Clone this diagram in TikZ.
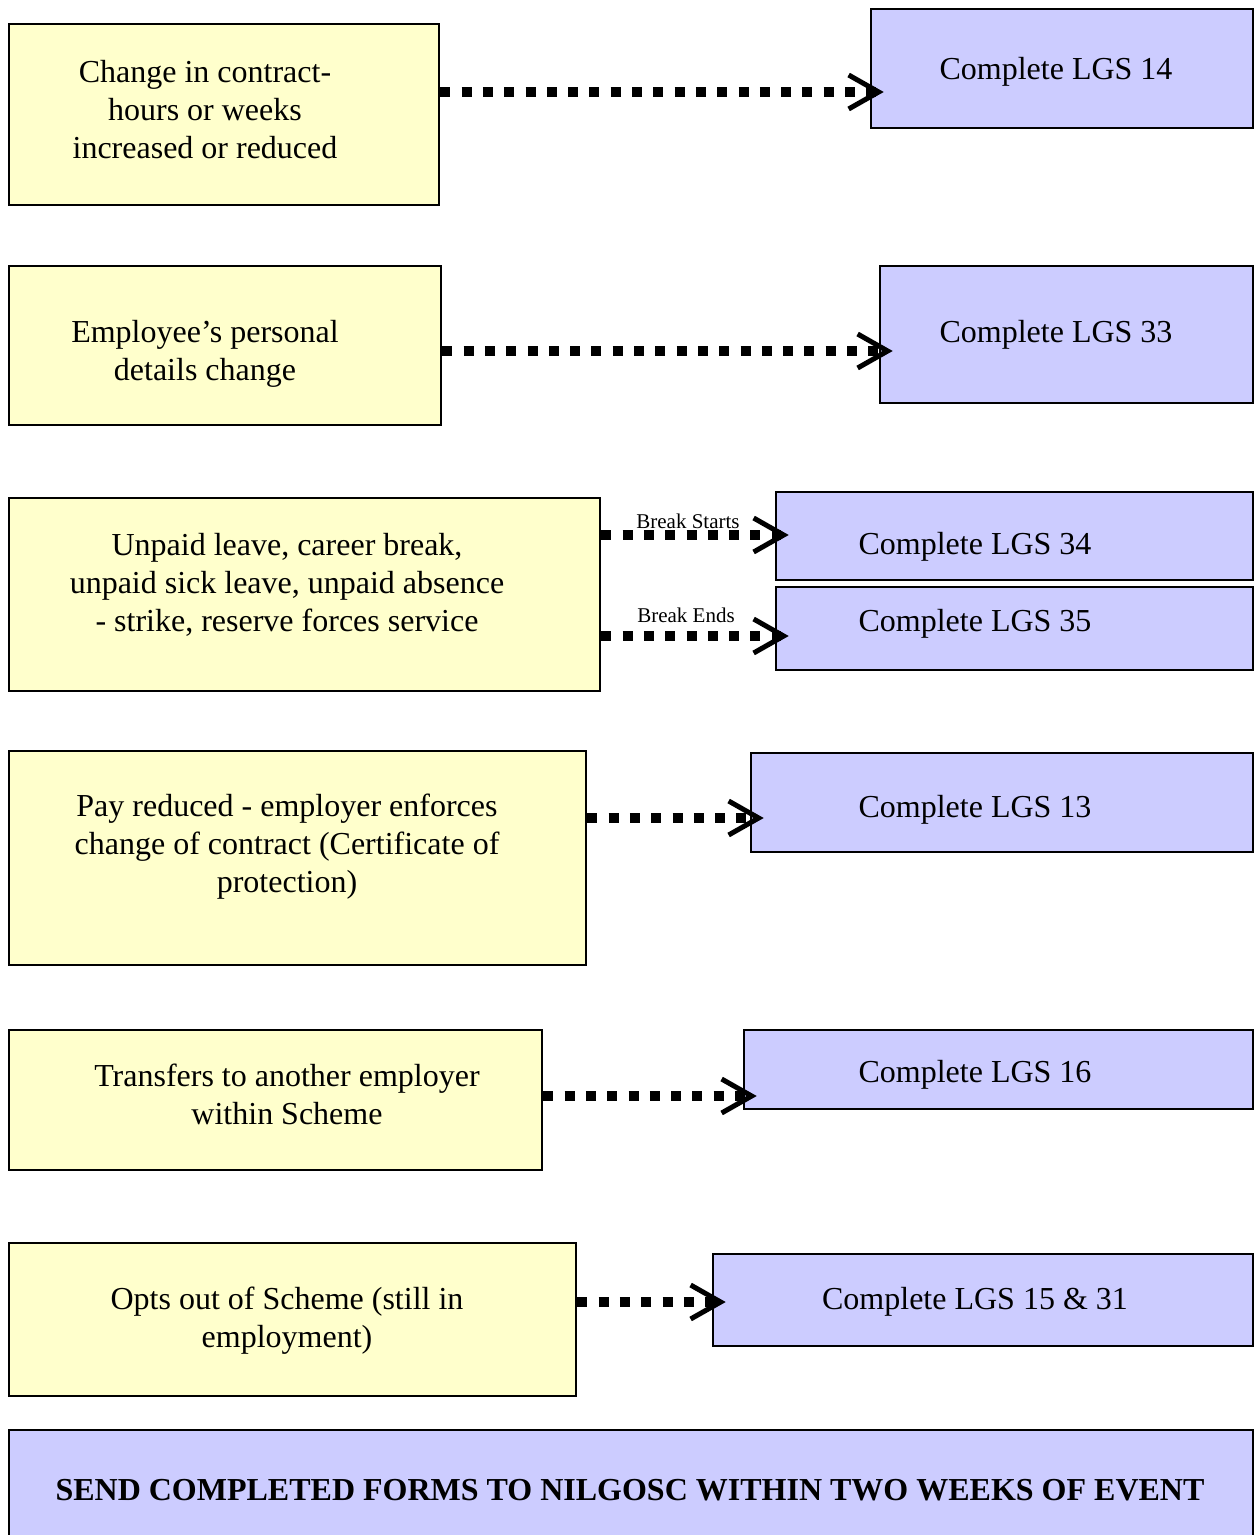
\documentclass[tikz,border=0pt]{standalone}
\usepackage{fontspec}
\setmainfont{Liberation Serif}
\usetikzlibrary{arrows.meta,fit}
\definecolor{ylw}{HTML}{FFFFCC}
\definecolor{blu}{HTML}{CCCCFF}
\tikzset{
  box/.style={draw=black, line width=1.3pt, inner sep=0pt, rectangle},
  ybox/.style={box, fill=ylw},
  bbox/.style={box, fill=blu},
  txt/.style={align=center, inner sep=0pt, font=\fontsize{16}{19}\selectfont},
  small/.style={inner sep=0pt, font=\fontsize{10.5}{12}\selectfont},
  flow/.style={line width=5pt, dash pattern=on 5pt off 5.65pt, shorten >=-7pt,
    -{Straight Barb[length=15pt, width=17pt, line width'=2.5pt]}}
}
\begin{document}
\begin{tikzpicture}[x=0.5pt, y=-0.5pt]
\useasboundingbox (0,0) rectangle (1255,1535);
% row 1
\node[ybox, fit={(9,24) (439,205)}] (y1) {};
\node[bbox, fit={(871,9) (1253,128)}] (b1) {};
\node[txt] (y1t) at (205,110) {Change in contract-\\hours or weeks\\increased or reduced};
\node[txt] (b1t) at (1056,72) {Complete LGS 14};
\coordinate (c1) at (0,92);
\draw[flow] (y1.east |- c1) -- (b1.west |- c1);
% row 2
\node[ybox, fit={(9,266) (441,425)}] (y2) {};
\node[bbox, fit={(880,266) (1253,403)}] (b2) {};
\node[txt] (y2t) at (205,354) {Employee's personal\\details change};
\node[txt] (b2t) at (1056,335) {Complete LGS 33};
\coordinate (c2) at (0,351);
\draw[flow] (y2.east |- c2) -- (b2.west |- c2);
% row 3
\node[ybox, fit={(9,498) (600,691)}] (y3) {};
\node[bbox, fit={(776,492) (1253,580)}] (b3) {};
\node[bbox, fit={(776,587) (1253,670)}] (b4) {};
\node[txt] (y3t) at (287,585) {Unpaid leave, career break,\\unpaid sick leave, unpaid absence\\- strike, reserve forces service};
\node[txt] (b3t) at (975,547) {Complete LGS 34};
\node[txt] (b4t) at (975,624) {Complete LGS 35};
\coordinate (c3) at (0,535);
\coordinate (c4) at (0,636);
\draw[flow] (y3.east |- c3) -- (b3.west |- c3);
\draw[flow] (y3.east |- c4) -- (b4.west |- c4);
\node[small] (l3) at (688,521) {Break Starts};
\node[small] (l4) at (686,615) {Break Ends};
% row 4
\node[ybox, fit={(9,751) (586,965)}] (y5) {};
\node[bbox, fit={(751,753) (1253,852)}] (b5) {};
\node[txt] (y5t) at (287,847) {Pay reduced - employer enforces\\change of contract (Certificate of\\protection)};
\node[txt] (b5t) at (975,810) {Complete LGS 13};
\coordinate (c5) at (0,818);
\draw[flow] (y5.east |- c5) -- (b5.west |- c5);
% row 5
\node[ybox, fit={(9,1030) (542,1170)}] (y6) {};
\node[bbox, fit={(744,1030) (1253,1109)}] (b6) {};
\node[txt] (y6t) at (287,1094) {Transfers to another employer\\within Scheme};
\node[txt] (b6t) at (975,1075) {Complete LGS 16};
\coordinate (c6) at (0,1096);
\draw[flow] (y6.east |- c6) -- (b6.west |- c6);
% row 6
\node[ybox, fit={(9,1243) (576,1396)}] (y7) {};
\node[bbox, fit={(713,1254) (1253,1346)}] (b7) {};
\node[txt] (y7t) at (287,1321) {Opts out of Scheme (still in\\employment)};
\node[txt] (b7t) at (975,1302) {Complete LGS 15 \& 31};
\coordinate (c7) at (0,1302);
\draw[flow] (y7.east |- c7) -- (b7.west |- c7);
% bottom
\node[bbox, fit={(9,1430) (1253,1550)}] (send) {};
\node[txt, font=\fontsize{16}{19}\selectfont\bfseries] (sendt) at (630,1490) {SEND COMPLETED FORMS TO NILGOSC WITHIN TWO WEEKS OF EVENT};
\end{tikzpicture}
\end{document}
